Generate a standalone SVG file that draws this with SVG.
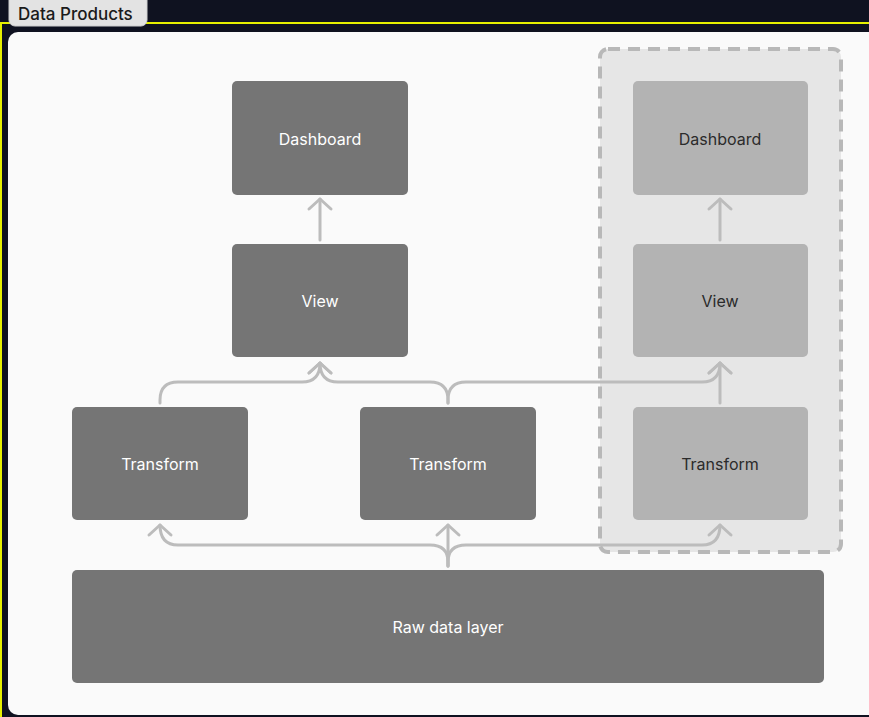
<svg xmlns="http://www.w3.org/2000/svg" width="869" height="717" viewBox="0 0 869 717">
<style>
.node{fill:#757575}
.lnode{fill:#b3b3b3}
.t{font-family:Inter,"Liberation Sans",sans-serif;font-size:16px;font-weight:400;text-anchor:middle;dominant-baseline:central}
.tw{fill:#ffffff}
.td{fill:#2b2b2b}
.c{fill:none;stroke:#bcbcbc;stroke-width:3;stroke-linecap:round;stroke-linejoin:round}
</style>
<defs>
<marker id="ah" markerUnits="userSpaceOnUse" markerWidth="30" markerHeight="30" viewBox="-15 -15 30 30" refX="0" refY="0" orient="auto">
<path d="M-10 -11 L0 0 L-10 11" fill="none" stroke="#bcbcbc" stroke-width="3" stroke-linecap="round" stroke-linejoin="round"/>
</marker>
</defs>
<rect x="0" y="0" width="869" height="717" fill="#0f1220"/>
<path d="M1 717 L1 23 L869 23" fill="none" stroke="#e6f000" stroke-width="2"/>
<g id="tab">
<rect x="9" y="-6" width="138" height="32" rx="6" fill="#e3e3e3" stroke="#cfcfcf" stroke-width="1"/>
<text x="18" y="14" font-family="Inter,'Liberation Sans',sans-serif" font-size="17" font-weight="500" fill="#1a1a1a" dominant-baseline="central">Data Products</text>
</g>
<rect x="8" y="32" width="875" height="683" rx="10" fill="#fafafa"/>
<g id="group">
<rect x="600" y="49" width="241" height="503" rx="8" fill="#e6e6e6" stroke="#b8b8b8" stroke-width="4" stroke-dasharray="12 8"/>
</g>
<g id="dashboard1"><rect class="node" x="232" y="81" width="176" height="114" rx="5"/><text class="t tw" x="320" y="139">Dashboard</text></g>
<g id="view1"><rect class="node" x="232" y="244" width="176" height="113" rx="5"/><text class="t tw" x="320" y="301">View</text></g>
<g id="transform1"><rect class="node" x="72" y="407" width="176" height="113" rx="5"/><text class="t tw" x="160" y="464">Transform</text></g>
<g id="transform2"><rect class="node" x="360" y="407" width="176" height="113" rx="5"/><text class="t tw" x="448" y="464">Transform</text></g>
<g id="dashboard2"><rect class="lnode" x="633" y="81" width="175" height="114" rx="5"/><text class="t td" x="720" y="139">Dashboard</text></g>
<g id="view2"><rect class="lnode" x="633" y="244" width="175" height="113" rx="5"/><text class="t td" x="720" y="301">View</text></g>
<g id="transform3"><rect class="lnode" x="633" y="407" width="175" height="113" rx="5"/><text class="t td" x="720" y="464">Transform</text></g>
<g id="raw"><rect class="node" x="72" y="570" width="752" height="113" rx="5"/><text class="t tw" x="448" y="627">Raw data layer</text></g>
<g id="connectors">
<path class="c" d="M320 240 L320 199" marker-end="url(#ah)"/>
<path class="c" d="M720 240 L720 199" marker-end="url(#ah)"/>
<path class="c" d="M160 403 L160 400 Q160 382 178 382 L302 382 Q320 382 320 363" marker-end="url(#ah)"/>
<path class="c" d="M448 403 L448 400 Q448 382 430 382 L338 382 Q320 382 320 363" marker-end="url(#ah)"/>
<path class="c" d="M448 403 L448 400 Q448 382 466 382 L702 382 Q720 382 720 363" marker-end="url(#ah)"/>
<path class="c" d="M720 403 L720 363" marker-end="url(#ah)"/>
<path class="c" d="M448 566 L448 562 Q448 545 430 545 L178 545 Q160 545 160 525" marker-end="url(#ah)"/>
<path class="c" d="M448 566 L448 525" marker-end="url(#ah)"/>
<path class="c" d="M448 566 L448 562 Q448 545 466 545 L702 545 Q720 545 720 525" marker-end="url(#ah)"/>
</g>
</svg>
